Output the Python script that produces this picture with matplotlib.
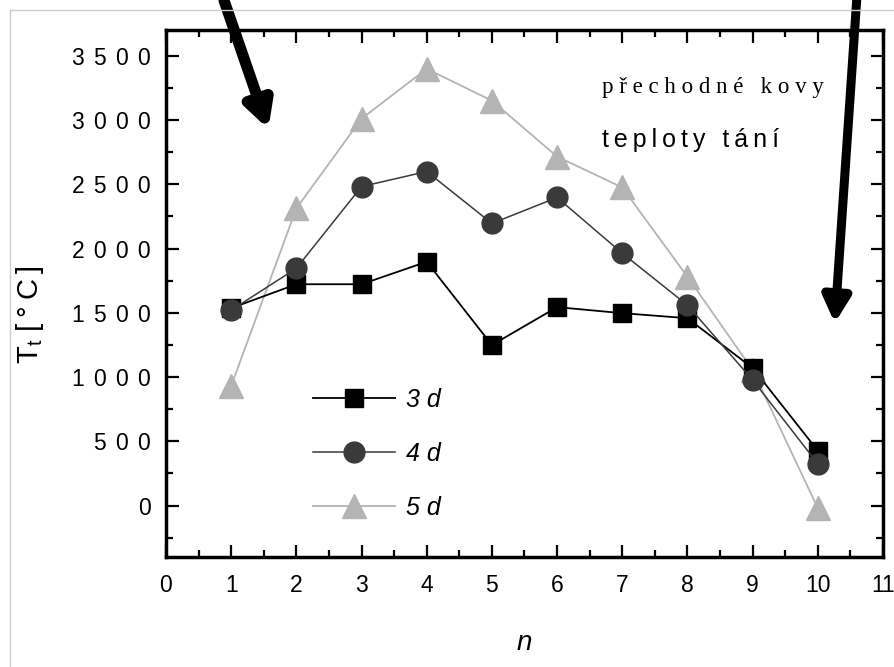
import numpy as np
import matplotlib.pyplot as plt
from matplotlib.lines import Line2D
from matplotlib.ticker import MultipleLocator, FuncFormatter

plt.rcParams['font.family'] = ['Liberation Sans', 'DejaVu Sans']
plt.rcParams['mathtext.default'] = 'regular'

# melting temperatures of the transition metals
n = [1, 2, 3, 4, 5, 6, 7, 8, 9, 10]
t_3d = [1536, 1722, 1722, 1897, 1249, 1544, 1497, 1458, 1070, 427]
t_4d = [1520, 1846, 2482, 2599, 2195, 2397, 1963, 1559, 977, 326]
t_5d = [931, 2312, 3010, 3398, 3150, 2715, 2475, 1780, 1055, -20]

series_labels = ['3 d', '4 d', '5 d']
note_top = 'přechodné kovy'
note_bottom = 'teploty tání'

THIN = '\u2009'


def spaced(s, sep=THIN):
    # the original text is set with wide letter spacing
    return sep.join(s)


fig = plt.figure(figsize=(8.95, 6.67), dpi=100)
ax = fig.add_axes([166 / 895, 110 / 667, 717 / 895, 527 / 667])

ax.plot(n, t_3d, color='black', lw=1.3, marker='s', ms=13,
        mfc='black', mec='black', label=series_labels[0], zorder=3)
ax.plot(n, t_4d, color='#3a3a3a', lw=1.1, marker='o', ms=15,
        mfc='#3a3a3a', mec='#3a3a3a', label=series_labels[1], zorder=4)
ax.plot(n, t_5d, color='#b4b4b4', lw=1.3, marker='^', ms=17,
        mfc='#b4b4b4', mec='#b4b4b4', label=series_labels[2], zorder=2)

ax.set_xlim(0, 11)
ax.set_ylim(-400, 3700)
ax.xaxis.set_major_locator(MultipleLocator(1))
ax.xaxis.set_minor_locator(MultipleLocator(0.5))
ax.yaxis.set_major_locator(MultipleLocator(500))
ax.yaxis.set_minor_locator(MultipleLocator(250))
ax.yaxis.set_major_formatter(FuncFormatter(lambda v, p: spaced('%d' % v, THIN * 2)))

for s in ax.spines.values():
    s.set_linewidth(2.5)
ax.tick_params(which='both', direction='in', top=True, right=True,
               labelsize=16.5)
ax.tick_params(axis='x', which='both', pad=12)
ax.tick_params(axis='y', which='both', pad=11)
ax.tick_params(which='major', length=9, width=1.6)
ax.tick_params(which='minor', length=5, width=1.6)

ax.set_xlabel('n', fontsize=20, style='italic', labelpad=24)
ax.set_ylabel('T$_t$ ' + spaced('[°C]'), fontsize=21)
ax.yaxis.set_label_coords(-0.168, 0.46)

leg = ax.legend(loc='center left', bbox_to_anchor=(0.187, 0.1954),
                frameon=False, handlelength=3.3,
                handletextpad=0.45, labelspacing=1.2, borderpad=0,
                numpoints=1, prop={'style': 'italic', 'size': 18})

ax.text(0.608, 0.890, ' '.join(note_top), transform=ax.transAxes,
        fontsize=16.5, family=['Liberation Serif', 'DejaVu Serif'],
        va='center', ha='left')
ax.text(0.608, 0.791, spaced(note_bottom), transform=ax.transAxes,
        fontsize=18, va='center', ha='left')

# two thick pointer arrows running out past the top of the frame
ax.annotate('', xy=(1.57, 2930), xytext=(0.89, 3930), annotation_clip=False,
            arrowprops=dict(arrowstyle='-|>,head_length=1.5,head_width=0.8',
                            lw=8, color='black', shrinkA=0, shrinkB=0))
ax.annotate('', xy=(10.26, 1420), xytext=(10.6, 3960), annotation_clip=False,
            arrowprops=dict(arrowstyle='-|>,head_length=1.5,head_width=0.8',
                            lw=6.5, color='black', shrinkA=0, shrinkB=0))

# light page border at top and left
fig.add_artist(Line2D([10 / 895, 1], [1 - 10 / 667, 1 - 10 / 667],
                      transform=fig.transFigure, color='#cccccc', lw=1))
fig.add_artist(Line2D([10 / 895, 10 / 895], [0, 1 - 10 / 667],
                      transform=fig.transFigure, color='#cccccc', lw=1))

fig.savefig('out.png', dpi=100)
